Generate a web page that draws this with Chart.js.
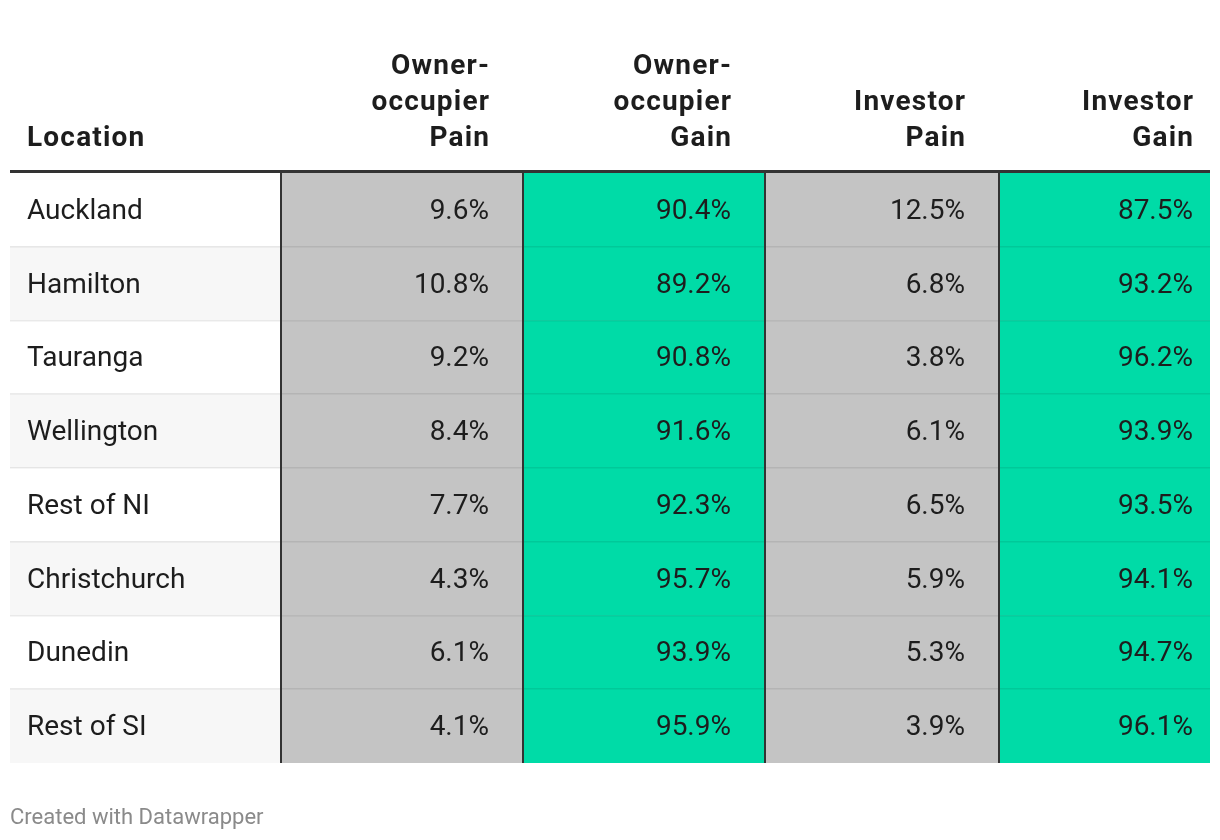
<!DOCTYPE html>
<html>
<head>
<meta charset="utf-8">
<script src="https://cdn.jsdelivr.net/npm/chart.js@4"></script>
<style>
  body { margin: 0; background: #fff; }
  #tableChart { display: block; }
</style>
</head>
<body>
<canvas id="tableChart" width="1220" height="840"></canvas>
<script>
const tableChart = document.querySelector("#tableChart");

const locations =    ['Auckland', 'Hamilton', 'Tauranga', 'Wellington', 'Rest of NI', 'Christchurch', 'Dunedin', 'Rest of SI'];
const ownerPain =    [9.6, 10.8, 9.2, 8.4, 7.7, 4.3, 6.1, 4.1];
const ownerGain =    [90.4, 89.2, 90.8, 91.6, 92.3, 95.7, 93.9, 95.9];
const investorPain = [12.5, 6.8, 3.8, 6.1, 6.5, 5.9, 5.3, 3.9];
const investorGain = [87.5, 93.2, 96.2, 93.9, 93.5, 94.1, 94.7, 96.1];
const headers = [['Location'], ['Owner-', 'occupier', 'Pain'], ['Owner-', 'occupier', 'Gain'], ['Investor', 'Pain'], ['Investor', 'Gain']];

const valueCols = [ownerPain, ownerGain, investorPain, investorGain];

// column layout (x units of the hidden linear scale)
const colEdges = [0, 271, 513, 755, 989, 1200];
const colColors = ['#c4c4c4', '#00dba7', '#c4c4c4', '#00dba7'];
const padRight = [34, 34, 34, 17];

let dsets = [];
// location column: alternating stripes
dsets.push({
    label: 'Location',
    data: locations.map(() => [colEdges[0], colEdges[1]]),
    backgroundColor: locations.map((l, i) => i % 2 ? '#f7f7f7' : '#ffffff'),
    borderWidth: 0,
    grouped: false,
    barPercentage: 1,
    categoryPercentage: 1
});
for (let c = 0; c < valueCols.length; c++) {
    dsets.push({
        label: headers[c + 1].join(' '),
        data: valueCols[c].map(() => [colEdges[c + 1], colEdges[c + 2]]),
        backgroundColor: colColors[c],
        borderWidth: 0,
        grouped: false,
        barPercentage: 1,
        categoryPercentage: 1
    });
}

const tablePlugin = {
    id: 'tablePlugin',
    afterDatasetsDraw(chart) {
        const {ctx, chartArea, scales: {x, y}} = chart;
        const rowH = y.getPixelForValue(1) - y.getPixelForValue(0);
        ctx.save();
        // row separators
        ctx.fillStyle = 'rgba(0,0,0,0.08)';
        for (let i = 1; i < locations.length; i++) {
            const yy = Math.round(y.getPixelForValue(i) - rowH / 2);
            ctx.fillRect(chartArea.left, yy - 1, chartArea.right - chartArea.left, 1.5);
        }
        // vertical column borders
        ctx.fillStyle = '#333333';
        for (let c = 1; c < colEdges.length - 1; c++) {
            const xx = x.getPixelForValue(colEdges[c]);
            ctx.fillRect(xx - 1, chartArea.top - 2, 2, chartArea.bottom - chartArea.top + 2);
        }
        // header rule
        ctx.fillStyle = '#333333';
        ctx.fillRect(chartArea.left, chartArea.top - 3, chartArea.right - chartArea.left, 3);

        // header text
        ctx.fillStyle = '#1d1d1d';
        ctx.font = 'bold 28px Roboto';
        ctx.letterSpacing = '1.2px';
        ctx.textBaseline = 'alphabetic';
        const lastBase = chartArea.top - 27;
        headers.forEach((lines, c) => {
            let xx, align;
            if (c === 0) {
                xx = x.getPixelForValue(colEdges[0]) + 17; align = 'left';
            } else {
                xx = x.getPixelForValue(colEdges[c + 1]) - padRight[c - 1] + 1.2; align = 'right';
            }
            ctx.textAlign = align;
            lines.forEach((t, k) => {
                ctx.fillText(t, xx, lastBase - (lines.length - 1 - k) * 36);
            });
        });
        ctx.letterSpacing = '0px';

        // body text
        ctx.font = '28px Roboto';
        ctx.textBaseline = 'middle';
        ctx.fillStyle = '#1d1d1d';
        locations.forEach((loc, i) => {
            const yy = y.getPixelForValue(i) + 2;
            ctx.textAlign = 'left';
            ctx.fillText(loc, x.getPixelForValue(colEdges[0]) + 17, yy);
            ctx.textAlign = 'right';
            valueCols.forEach((vals, c) => {
                ctx.fillText(vals[i].toFixed(1) + '%', x.getPixelForValue(colEdges[c + 2]) - padRight[c], yy);
            });
        });

        // footer
        ctx.font = '22px Roboto';
        ctx.fillStyle = '#8a8a8a';
        ctx.textAlign = 'left';
        ctx.textBaseline = 'alphabetic';
        ctx.fillText('Created with Datawrapper', chartArea.left, chartArea.bottom + 61);
        ctx.restore();
    }
};

const myChart = new Chart(tableChart, {
    type: 'bar',
    data: {
        labels: locations,
        datasets: dsets
    },
    options: {
        indexAxis: 'y',
        responsive: false,
        animation: false,
        layout: {
            padding: {left: 10, right: 10, top: 173, bottom: 77}
        },
        scales: {
            x: {type: 'linear', min: 0, max: 1200, display: false},
            y: {type: 'category', display: false}
        },
        plugins: {
            legend: {display: false},
            tooltip: {enabled: false}
        }
    },
    plugins: [tablePlugin]
});
</script>
</body>
</html>
